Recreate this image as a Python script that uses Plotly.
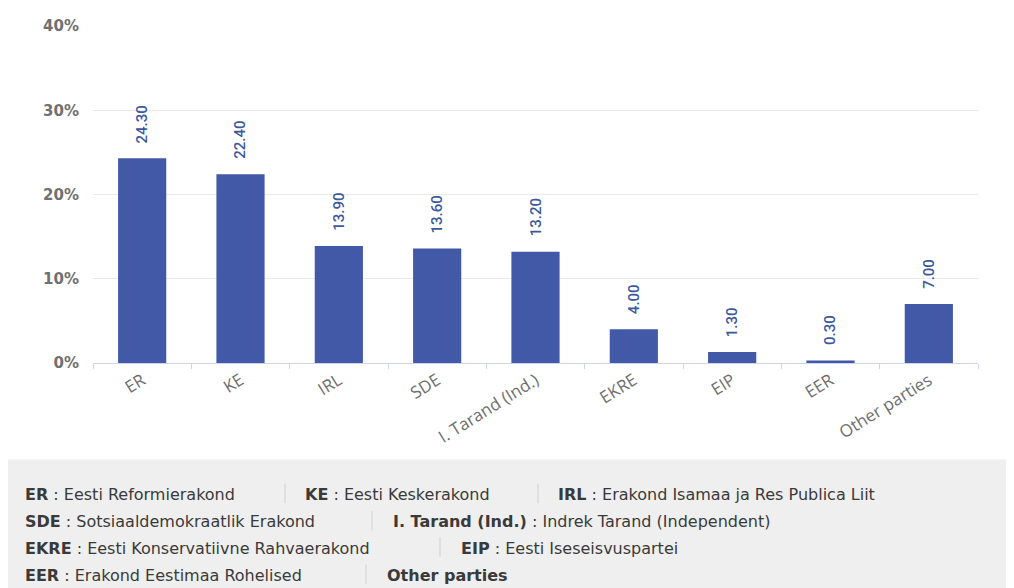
import plotly.graph_objects as go

# ---- data ----
parties = ["ER", "KE", "IRL", "SDE", "I. Tarand (Ind.)", "EKRE", "EIP", "EER", "Other parties"]
shares = [24.30, 22.40, 13.90, 13.60, 13.20, 4.00, 1.30, 0.30, 7.00]
y_ticks = [0, 10, 20, 30, 40]
y_tick_labels = ["0%", "10%", "20%", "30%", "40%"]

legend_rows = [
    [("ER", "Eesti Reformierakond"), ("KE", "Eesti Keskerakond"), ("IRL", "Erakond Isamaa ja Res Publica Liit")],
    [("SDE", "Sotsiaaldemokraatlik Erakond"), ("I. Tarand (Ind.)", "Indrek Tarand (Independent)")],
    [("EKRE", "Eesti Konservatiivne Rahvaerakond"), ("EIP", "Eesti Iseseisvuspartei")],
    [("EER", "Erakond Eestimaa Rohelised"), ("Other parties", None)],
]

# ---- layout geometry (pixels, page has an 8px body margin) ----
OFF = 8
W, H = 1014, 588
ML, MT = 93 - OFF, 17 - OFF
MR = W - (978 - OFF)
MB = H - (363 - OFF)
PW, PH = W - ML - MR, H - MT - MB


def px_x(p):  # reference page pixel -> paper x
    return (p - OFF - ML) / PW


def px_y(p):  # reference page pixel -> paper y
    return (H - MB - (p - OFF)) / PH


BAR = "#4159a6"
LABEL = "#3b589e"

fig = go.Figure()
fig.add_trace(go.Bar(x=parties, y=shares, marker=dict(color=BAR, line=dict(width=0)),
                     hoverinfo="x+y"))

annotations = []
for p, v in zip(parties, shares):
    annotations.append(dict(
        x=p, y=v, xref="x", yref="y", text=f"{v:.2f}", showarrow=False,
        textangle=-90, yanchor="bottom", xanchor="center", yshift=13,
        font=dict(family="Roboto, DejaVu Sans Condensed, sans-serif", size=15,
                  color=LABEL, weight=500),
    ))

# footer legend
shapes = [dict(type="rect", xref="paper", yref="paper",
               x0=px_x(7), x1=px_x(1030), y0=px_y(462), y1=px_y(600),
               fillcolor="#efefef", line=dict(width=0), layer="below")]

row_y = [498, 526, 553, 581]
row_starts = [[23, 303, 556], [23, 391], [23, 459], [23, 385]]
row_seps = [[285, 538], [372], [440], [366]]
for items, ypx, starts, seps in zip(legend_rows, row_y, row_starts, row_seps):
    for (abbr, full), xs in zip(items, starts):
        txt = f"<b>{abbr}</b>" + (f" : {full}" if full else "")
        annotations.append(dict(
            x=px_x(xs), y=px_y(ypx), xref="paper", yref="paper", text=txt,
            showarrow=False, xanchor="left", yanchor="middle",
            font=dict(family="DejaVu Sans, sans-serif", size=16, color="#3a3a3a"),
        ))
    for sx in seps:
        shapes.append(dict(type="line", xref="paper", yref="paper",
                           x0=px_x(sx), x1=px_x(sx), y0=px_y(ypx - 11), y1=px_y(ypx + 9),
                           line=dict(color="#cfcfcf", width=1)))

fig.update_layout(
    width=W, height=H,
    margin=dict(l=ML, r=MR, t=MT, b=MB, pad=0),
    paper_bgcolor="white", plot_bgcolor="white",
    bargap=0.51, showlegend=False,
    annotations=annotations, shapes=shapes,
    xaxis=dict(
        type="category", showline=True, linecolor="#ccd6eb", linewidth=1,
        ticks="outside", tickson="boundaries", ticklen=5, tickcolor="#ccd6eb",
        tickangle=-32, showgrid=False,
        tickfont=dict(family="Open Sans, sans-serif", size=17, color="#6e6e6e"),
    ),
    yaxis=dict(
        range=[0, 40], tickvals=y_ticks, ticktext=y_tick_labels,
        showgrid=True, gridcolor="#e9e9e9", gridwidth=1, zeroline=False,
        ticks="", ticklabelstandoff=13,
        tickfont=dict(family="DejaVu Sans, sans-serif", size=15, color="#707070", weight="bold"),
    ),
)

fig.write_html("out.html")
